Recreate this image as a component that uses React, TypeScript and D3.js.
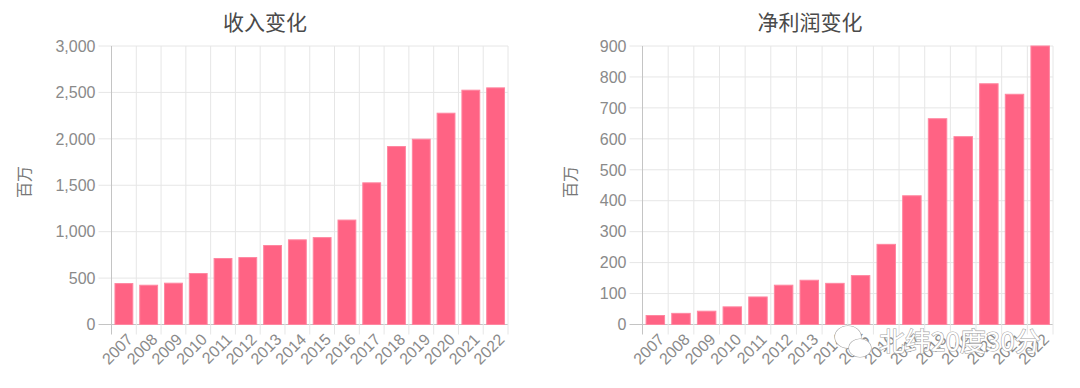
import React from 'react';
import * as d3 from 'd3';

const years = ['2007', '2008', '2009', '2010', '2011', '2012', '2013', '2014', '2015', '2016', '2017', '2018', '2019', '2020', '2021', '2022'];
const revenue = [441, 423, 445, 549, 711, 721, 851, 912, 936, 1125, 1526, 1917, 1996, 2276, 2524, 2549];
const profit = [29, 36, 43, 57, 89, 127, 143, 133, 158, 259, 416, 665, 607, 778, 744, 900];
const revenueTicks = [0, 500, 1000, 1500, 2000, 2500, 3000];
const profitTicks = [0, 100, 200, 300, 400, 500, 600, 700, 800, 900];

const W = 1080;
const H = 388;
const top = 46;
const bottom = 324.5;
const font = '"Liberation Sans", Arial, Helvetica, sans-serif';
const cjk = '"Noto Sans CJK SC", "Liberation Sans", sans-serif';

type PanelProps = {
  title: string;
  values: number[];
  ticks: number[];
  left: number;
  right: number;
  titleX: number;
  unitX: number;
};

function BarPanel({ title, values, ticks, left, right, titleX, unitX }: PanelProps) {
  const x = d3.scaleBand<string>().domain(years).range([left, right]).padding(0);
  const y = d3.scaleLinear().domain([0, ticks[ticks.length - 1]]).range([bottom, top]);
  const bw = x.bandwidth();
  const fmt = d3.format(',');
  const edges = years.map(d => x(d) as number).concat([right]);

  return (
    <g>
      <text x={titleX} y={30} textAnchor="middle" fontFamily={cjk} fontSize={21} fill="#4a4a4a">
        {title}
      </text>
      <text
        transform={`translate(${unitX},182) rotate(-90)`}
        textAnchor="middle"
        fontFamily={cjk}
        fontSize={16}
        fill="#777"
      >
        百万
      </text>

      {/* 横向网格 */}
      {ticks.map(t => (
        <g key={'h' + t}>
          <line
            x1={left - 13}
            x2={right}
            y1={y(t)}
            y2={y(t)}
            stroke={t === 0 ? '#c4c4c4' : '#e6e6e6'}
            strokeWidth={1}
          />
          <text
            x={left - 16}
            y={y(t)}
            dy="0.36em"
            textAnchor="end"
            fontFamily={font}
            fontSize={16}
            fill="#8a8a8a"
          >
            {fmt(t)}
          </text>
        </g>
      ))}

      {/* 纵向网格 */}
      {edges.map((ex, i) => (
        <line
          key={'v' + i}
          x1={ex}
          x2={ex}
          y1={top}
          y2={bottom + 10}
          stroke={i === 0 ? '#c4c4c4' : '#e6e6e6'}
          strokeWidth={1}
        />
      ))}

      {values.map((v, i) => (
        <rect
          key={'b' + i}
          x={(x(years[i]) as number) + bw * 0.14}
          y={y(v)}
          width={bw * 0.72}
          height={bottom - y(v)}
          fill="#ff6384"
          stroke="#ff86a0"
          strokeWidth={1}
        />
      ))}

      {years.map(d => (
        <text
          key={'x' + d}
          transform={`translate(${(x(d) as number) + bw / 2 + 2},${bottom + 8}) rotate(-45)`}
          textAnchor="end"
          dy="0.7em"
          fontFamily={font}
          fontSize={16}
          fill="#8a8a8a"
        >
          {d}
        </text>
      ))}
    </g>
  );
}

export default function App() {
  return (
    <svg
      width={W}
      height={H}
      style={{ position: 'absolute', left: 0, top: 0, background: '#fff' }}
    >
      <BarPanel title="收入变化" values={revenue} ticks={revenueTicks} left={111.5} right={508} titleX={265} unitX={30} />
      <BarPanel title="净利润变化" values={profit} ticks={profitTicks} left={642.5} right={1053} titleX={810} unitX={576} />

      {/* 水印 */}
      <g fontFamily={cjk} fill="#fff" stroke="#a8a8a8" strokeWidth={1.2} paintOrder="stroke">
        <ellipse cx={848} cy={337} rx={13} ry={11} fill="#fff" />
        <ellipse cx={860} cy={348} rx={11} ry={9} fill="#fff" />
        <text x={879} y={351} fontSize={26}>北纬20度30分</text>
      </g>
    </svg>
  );
}
